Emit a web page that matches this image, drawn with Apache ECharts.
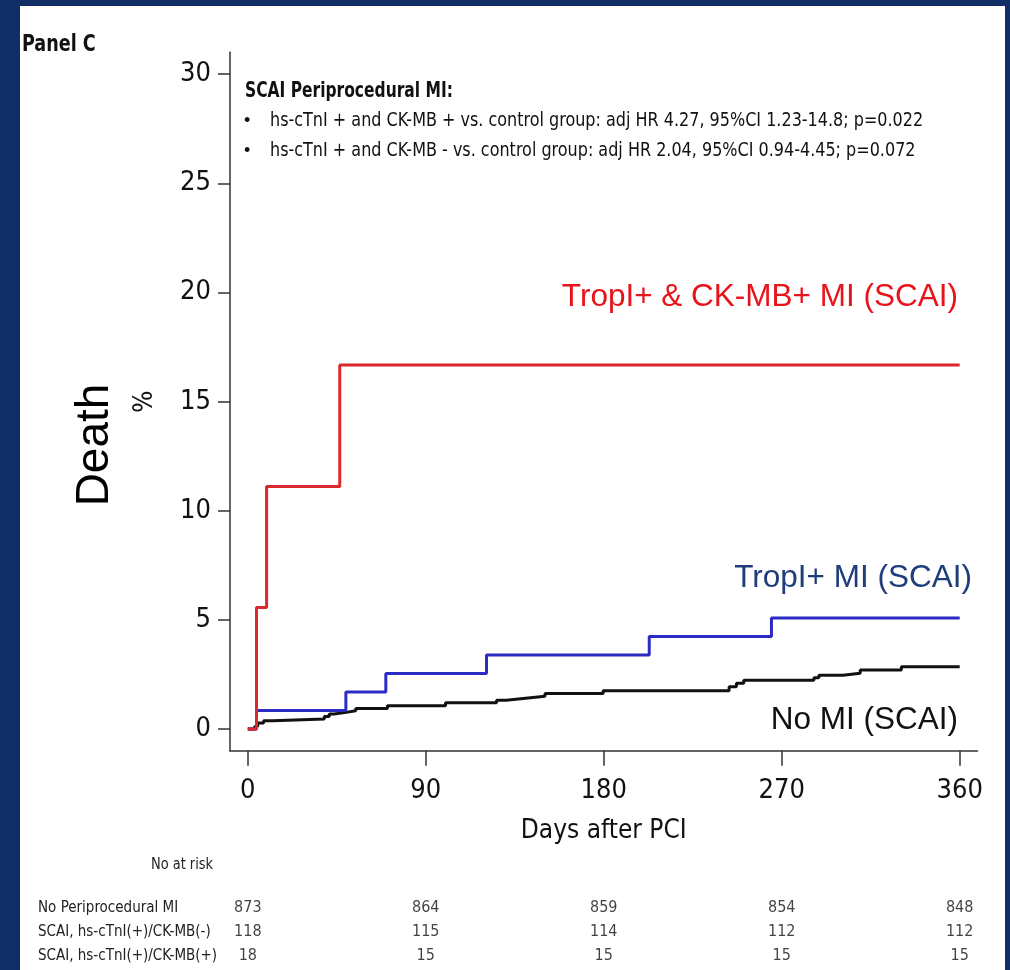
<!DOCTYPE html>
<html>
<head>
<meta charset="utf-8">
<script src="https://cdn.jsdelivr.net/npm/echarts@6.0.0/dist/echarts.min.js"></script>
<style>
html, body { margin: 0; padding: 0; background: #112e66; }
#chart { width: 1010px; height: 970px; }
</style>
</head>
<body>
<div id="chart"></div>
<script>
// tick labels
var dayTicks = [0, 90, 180, 270, 360];
var pctTicks = [0, 5, 10, 15, 20, 25, 30];

// cumulative death (%) - [day, value]
var noMI = [[0, 0], [3.5, 0.11], [5, 0.27], [8, 0.38], [12.8, 0.46], [38.7, 0.57], [41.2, 0.69],
  [43.6, 0.76], [49.7, 0.83], [54.6, 0.94], [70.6, 1.06], [100, 1.2], [125.8, 1.32], [130.7, 1.41],
  [140.5, 1.5], [150.3, 1.62], [179.7, 1.75], [243.4, 1.94], [247.1, 2.09], [250.8, 2.23],
  [286.3, 2.35], [288.8, 2.46], [301, 2.55], [309.7, 2.7], [330.5, 2.85], [360, 2.85]];
var tropOnly = [[0, 0], [4.4, 0.85], [49.6, 1.69], [69.8, 2.54], [120.7, 3.39], [203, 4.24],
  [264.8, 5.08], [360, 5.08]];
var tropCk = [[0, 0], [4.4, 5.56], [9.5, 11.11], [46.5, 16.67], [360, 16.67]];

// numbers at risk
var riskGroups = ['No Periprocedural MI', 'SCAI, hs-cTnI(+)/CK-MB(-)', 'SCAI, hs-cTnI(+)/CK-MB(+)'];
var riskNoMI = [873, 864, 859, 854, 848];
var riskTrop = [118, 115, 114, 112, 112];
var riskTropCk = [18, 15, 15, 15, 15];

var hrTitle = 'SCAI Periprocedural MI:';
var hrLines = [
  'hs-cTnI + and CK-MB + vs. control group: adj HR 4.27, 95%CI 1.23-14.8; p=0.022',
  'hs-cTnI + and CK-MB - vs. control group: adj HR 2.04, 95%CI 0.94-4.45; p=0.072'
];

var narrow = '"Liberation Sans Narrow", "Arial Narrow", "DejaVu Sans Condensed", sans-serif';
var arial = '"Liberation Sans", Arial, sans-serif';

var riskData = [];
[riskNoMI, riskTrop, riskTropCk].forEach(function (row, r) {
  row.forEach(function (v, i) { riskData.push([dayTicks[i], r, v]); });
});

// squeezed text, the source uses a condensed face
function txt (x, y, text, font, sx, extra) {
  var style = { text: text, font: font, fill: '#111', verticalAlign: 'middle' };
  for (var k in extra) style[k] = extra[k];
  return { type: 'text', x: x, y: y, scaleX: sx, style: style };
}

var chart = echarts.init(document.getElementById('chart'));
var option = {
  backgroundColor: '#112e66',
  animation: false,
  graphic: [
    { type: 'rect', shape: { x: 20, y: 6, width: 985, height: 964 }, style: { fill: '#fff' }, z: -10 },
    txt(22, 45, 'Panel C', 'bold 23px ' + narrow, 0.85),
    txt(245, 92, hrTitle, 'bold 21px ' + narrow, 0.82),
    txt(244, 121, '•', '18px ' + arial, 1),
    txt(270, 121, hrLines[0], '20px ' + narrow, 0.89),
    txt(244, 151, '•', '18px ' + arial, 1),
    txt(270, 151, hrLines[1], '20px ' + narrow, 0.89),
    txt(958, 297, 'TropI+ & CK-MB+ MI (SCAI)', '31.5px ' + arial, 1, { fill: '#e8141c', align: 'right' }),
    txt(972, 578, 'TropI+ MI (SCAI)', '31.5px ' + arial, 1, { fill: '#1f3d7a', align: 'right' }),
    txt(958, 720, 'No MI (SCAI)', '31.5px ' + arial, 1, { fill: '#111', align: 'right' }),
    { type: 'text', x: 95, y: 445, rotation: Math.PI / 2,
      style: { text: 'Death', font: '46px ' + arial, fill: '#000', align: 'center', verticalAlign: 'middle' } },
    txt(151, 865, 'No at risk', '16px ' + narrow, 0.9, { fill: '#222' })
  ],
  grid: [
    { left: 230, right: 32.5, top: 52.3, bottom: 219.2 },
    { left: 230, right: 32.5, top: 896, bottom: 2 }
  ],
  xAxis: [
    {
      type: 'value', gridIndex: 0, min: -9, max: 369,
      name: 'Days after PCI', nameLocation: 'middle', nameGap: 67,
      nameTextStyle: { fontFamily: narrow, fontSize: 26, color: '#111' },
      axisLine: { show: true, onZero: false, lineStyle: { color: '#333', width: 1.5 } },
      axisTick: { show: true, length: 15, customValues: dayTicks, lineStyle: { color: '#333', width: 1.5 } },
      axisLabel: { customValues: dayTicks, margin: 27, fontFamily: narrow, fontSize: 27, color: '#111' },
      splitLine: { show: false }
    },
    { type: 'value', gridIndex: 1, min: -9, max: 369, show: false }
  ],
  yAxis: [
    {
      type: 'value', gridIndex: 0, min: -1, max: 31,
      name: '%', nameLocation: 'middle', nameGap: 72, nameRotate: 90,
      nameTextStyle: { fontFamily: narrow, fontSize: 26, color: '#111' },
      axisLine: { show: true, onZero: false, lineStyle: { color: '#333', width: 1.5 } },
      axisTick: { show: true, length: 12, customValues: pctTicks, lineStyle: { color: '#333', width: 1.5 } },
      axisLabel: { customValues: pctTicks, margin: 19, fontFamily: narrow, fontSize: 27, color: '#111' },
      splitLine: { show: false }
    },
    {
      type: 'category', gridIndex: 1, inverse: true, data: riskGroups,
      axisLine: { show: false }, axisTick: { show: false },
      axisLabel: { align: 'left', margin: 192, fontFamily: narrow, fontSize: 15, color: '#222' }
    }
  ],
  series: [
    { type: 'line', xAxisIndex: 0, yAxisIndex: 0, step: 'end', showSymbol: false, data: noMI,
      lineStyle: { color: '#111', width: 3 } },
    { type: 'line', xAxisIndex: 0, yAxisIndex: 0, step: 'end', showSymbol: false, data: tropOnly,
      lineStyle: { color: '#2a2ac4', width: 3 } },
    { type: 'line', xAxisIndex: 0, yAxisIndex: 0, step: 'end', showSymbol: false, data: tropCk,
      lineStyle: { color: '#d9282e', width: 3 } },
    { type: 'scatter', xAxisIndex: 1, yAxisIndex: 1, data: riskData, symbolSize: 1,
      itemStyle: { color: 'rgba(0,0,0,0)' },
      label: { show: true, position: 'inside', formatter: function (p) { return p.value[2]; },
        fontFamily: narrow, fontSize: 16, color: '#111' } }
  ]
};
chart.setOption(option);
</script>
</body>
</html>
